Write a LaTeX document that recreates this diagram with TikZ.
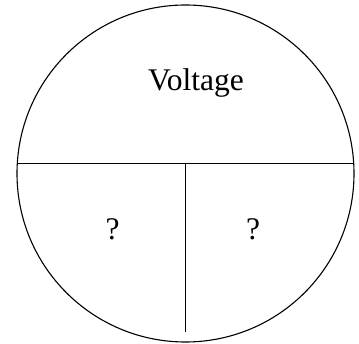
\documentclass[tikz,border=0pt]{standalone}
\usepackage{fontspec}
\setmainfont{Liberation Serif}
\usetikzlibrary{calc}
\tikzset{
  rim/.style={circle,draw=black,line width=1.1pt,minimum size=337pt,inner sep=0pt},
  split/.style={line width=1.1pt,black},
  lbl/.style={font=\fontsize{31.5}{36}\selectfont,anchor=base,inner sep=0pt},
}

\begin{document}
\begin{tikzpicture}[x=1pt,y=1pt]
  \useasboundingbox (0,0) rectangle (359,343);
  \node[rim] (ring) at (185.5,169.5) {};

  % chords of the circle
  \coordinate (hl) at ($(ring.center)+(-168.2,10)$);
  \coordinate (hr) at ($(ring.center)+(168.2,10)$);
  \coordinate (vt) at (185.7,179.5);
  \coordinate (vb) at (185.7,11);
  \draw[split] (hl) -- (hr);
  \draw[split] (vt) -- (vb);

  \node[lbl] (volt) at (196,252.7) {Voltage};
  \node[lbl] (qa) at (112.5,103) {?};
  \node[lbl] (qb) at (253,103) {?};
\end{tikzpicture}
\end{document}
